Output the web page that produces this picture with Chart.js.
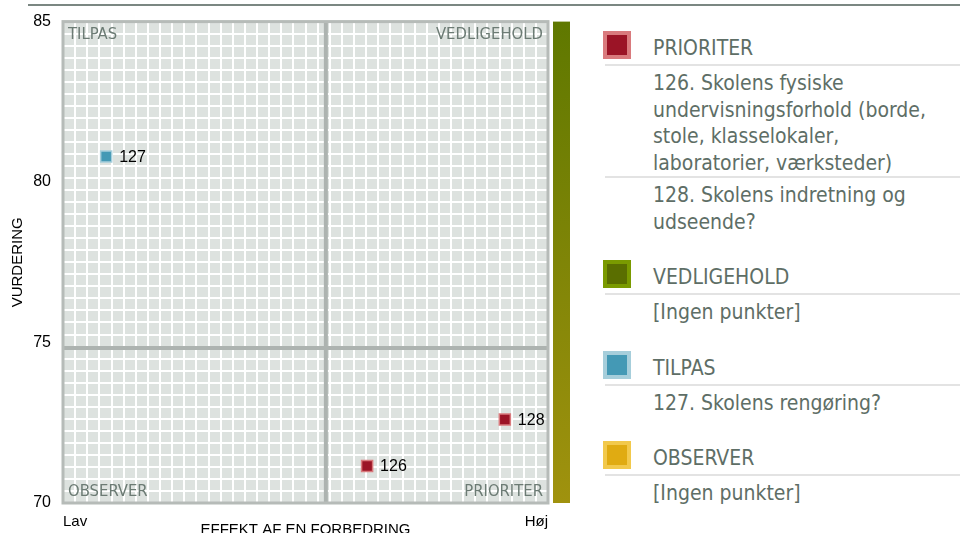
<!DOCTYPE html>
<html>
<head>
<meta charset="utf-8">
<script src="https://cdn.jsdelivr.net/npm/chart.js@4.4.1/dist/chart.umd.min.js"></script>
<style>
  html, body { margin:0; padding:0; background:#fff; width:960px; height:533px; overflow:hidden; }
  #topline { position:absolute; left:28px; top:4px; width:932px; height:2px; background:#7b8782; }
  #wrap { position:absolute; left:0; top:0; width:590px; height:533px; }
  #legend { position:absolute; left:603px; top:31px; width:357px;
    font-family:"DejaVu Sans Condensed","DejaVu Sans",sans-serif; font-stretch:condensed;
    font-size:21px; color:#5e6e66; }
  .group { margin-bottom:25px; }
  .head { display:flex; align-items:flex-start; height:28px; }
  .icon { width:28px; height:28px; box-sizing:border-box; border:4px solid; flex:none; }
  .title { margin-left:22px; line-height:28px; padding-top:3px; }
  .sep { height:2px; background:#e3e3e3; margin-left:2px; }
  .head + .sep { margin-top:5px; }
  .item { padding-left:50px; padding-top:4px; line-height:26.5px; width:300px; }
</style>
</head>
<body>
<div id="topline"></div>
<div id="wrap"><canvas id="c" width="590" height="533"></canvas></div>
<div id="legend"></div>
<script>
// ---- data ----
const pointIds     = [126, 127, 128];
const pointEffekt  = [62.7, 8.9, 91.1];       // x: 0 (Lav) .. 100 (Høj)
const pointVurdering = [71.15, 80.8, 72.6];   // y: 70 .. 85
const pointGroup   = ['PRIORITER', 'TILPAS', 'PRIORITER'];
const pointText    = [
  'Skolens fysiske undervisningsforhold (borde, stole, klasselokaler, laboratorier, værksteder)',
  'Skolens rengøring?',
  'Skolens indretning og udseende?'
];
const groups       = ['PRIORITER', 'VEDLIGEHOLD', 'TILPAS', 'OBSERVER'];
const groupFill    = ['#9b1426', '#5a6e00', '#4499b5', '#e0ab12'];
const groupEdge    = ['#d97a7d', '#7a9a00', '#a6cedb', '#f2c94c'];
const xTickLabels  = ['Lav', 'Høj'];
const yTicks       = [70, 75, 80, 85];
const splitX = 54.2;    // quadrant split on effekt axis
const splitY = 74.83;   // quadrant split on vurdering axis
const emptyText = '[Ingen punkter]';

// ---- datasets ----
const datasets = groups.map((g, gi) => {
  const data = [];
  pointIds.forEach((id, i) => {
    if (pointGroup[i] === g) data.push({ x: pointEffekt[i], y: pointVurdering[i], id: id });
  });
  return {
    label: g, data: data,
    pointStyle: 'rect', pointRadius: 7.8, pointHoverRadius: 7.8,
    backgroundColor: groupFill[gi], borderColor: groupEdge[gi], borderWidth: 1.5
  };
});

const CONDENSED = "'DejaVu Sans Condensed', 'DejaVu Sans', sans-serif";
const TICKFONT = "'Liberation Sans', Arial, sans-serif";

const quadrantPlugin = {
  id: 'quadrant',
  beforeDatasetsDraw(chart) {
    const { ctx, chartArea: a, scales } = chart;
    const w = a.right - a.left, h = a.bottom - a.top;
    ctx.save();
    ctx.fillStyle = '#dde2df';
    ctx.fillRect(a.left, a.top, w, h);
    ctx.strokeStyle = '#ffffff';
    ctx.lineWidth = 2;
    ctx.beginPath();
    for (let i = 1; i < 40; i++) {
      const x = Math.round(a.left + i * w / 40);
      ctx.moveTo(x, a.top); ctx.lineTo(x, a.bottom);
      const y = Math.round(a.top + i * h / 40);
      ctx.moveTo(a.left, y); ctx.lineTo(a.right, y);
    }
    ctx.stroke();
    // split lines
    ctx.strokeStyle = '#adb3b0';
    ctx.lineWidth = 4;
    const sx = scales.x.getPixelForValue(splitX);
    const sy = scales.y.getPixelForValue(splitY);
    ctx.beginPath();
    ctx.moveTo(sx, a.top); ctx.lineTo(sx, a.bottom);
    ctx.moveTo(a.left, sy); ctx.lineTo(a.right, sy);
    ctx.stroke();
    // border
    ctx.strokeStyle = '#b6bbb8';
    ctx.lineWidth = 3;
    ctx.strokeRect(a.left, a.top, w, h);
    // quadrant names
    ctx.fillStyle = '#6c7b74';
    ctx.font = '16.5px ' + CONDENSED;
    ctx.textBaseline = 'middle';
    ctx.textAlign = 'left';
    ctx.fillText(groups[2], a.left + 5, a.top + 13);
    ctx.fillText(groups[3], a.left + 5, a.bottom - 11);
    ctx.textAlign = 'right';
    ctx.fillText(groups[1], a.right - 5, a.top + 13);
    ctx.fillText(groups[0], a.right - 5, a.bottom - 11);
    // gradient bar
    const g = ctx.createLinearGradient(0, a.top, 0, a.bottom);
    g.addColorStop(0, '#5f7800');
    g.addColorStop(1, '#a0920e');
    ctx.fillStyle = g;
    ctx.fillRect(a.right + 5, a.top, 17, h);
    ctx.restore();
  },
  afterDatasetsDraw(chart) {
    const { ctx } = chart;
    ctx.save();
    ctx.fillStyle = '#000';
    ctx.font = '16px ' + TICKFONT;
    ctx.textBaseline = 'middle';
    ctx.textAlign = 'left';
    chart.data.datasets.forEach((ds, di) => {
      chart.getDatasetMeta(di).data.forEach((el, i) => {
        ctx.fillText(String(ds.data[i].id), el.x + 13, el.y + 1);
      });
    });
    ctx.restore();
  }
};

new Chart(document.getElementById('c'), {
  type: 'scatter',
  data: { datasets: datasets },
  options: {
    responsive: false,
    devicePixelRatio: 1,
    animation: false,
    layout: { padding: { top: 18, right: 42, left: 0, bottom: 0 } },
    plugins: { legend: { display: false }, tooltip: { enabled: false } },
    scales: {
      x: {
        type: 'linear', min: 0, max: 100,
        afterBuildTicks: s => { s.ticks = [{ value: 0 }, { value: 100 }]; },
        afterFit: s => { s.height = 30; },
        ticks: {
          callback: v => (v === 0 ? xTickLabels[0] : xTickLabels[1]),
          align: 'inner', padding: 10, maxRotation: 0, autoSkip: false,
          color: '#000', font: { family: TICKFONT, size: 15 }
        },
        grid: { display: false, drawTicks: false },
        border: { display: false },
        title: {
          display: true, text: 'EFFEKT AF EN FORBEDRING', color: '#000',
          font: { family: TICKFONT, size: 15 }, padding: { top: 0, bottom: -6 }
        }
      },
      y: {
        type: 'linear', min: 70, max: 85,
        afterBuildTicks: s => { s.ticks = yTicks.map(v => ({ value: v })); },
        afterFit: s => { s.width = 63; },
        ticks: { padding: 12, color: '#000', font: { family: TICKFONT, size: 16 } },
        grid: { display: false, drawTicks: false },
        border: { display: false },
        title: {
          display: true, text: 'VURDERING', color: '#000',
          font: { family: TICKFONT, size: 15 }, padding: { top: 9, bottom: 0 }
        }
      }
    }
  },
  plugins: [quadrantPlugin]
});

// ---- legend ----
const legend = document.getElementById('legend');
groups.forEach((g, gi) => {
  const grp = document.createElement('div');
  grp.className = 'group';
  const head = document.createElement('div');
  head.className = 'head';
  const icon = document.createElement('div');
  icon.className = 'icon';
  icon.style.background = groupFill[gi];
  icon.style.borderColor = groupEdge[gi];
  const title = document.createElement('div');
  title.className = 'title';
  title.textContent = g;
  head.appendChild(icon); head.appendChild(title);
  grp.appendChild(head);
  const sep = document.createElement('div'); sep.className = 'sep';
  grp.appendChild(sep);
  const items = [];
  pointIds.forEach((id, i) => { if (pointGroup[i] === g) items.push(id + '. ' + pointText[i]); });
  if (!items.length) items.push(emptyText);
  items.forEach((t, k) => {
    if (k > 0) { const s = document.createElement('div'); s.className = 'sep'; grp.appendChild(s); }
    const it = document.createElement('div');
    it.className = 'item';
    it.textContent = t;
    grp.appendChild(it);
  });
  legend.appendChild(grp);
});
</script>
</body>
</html>
